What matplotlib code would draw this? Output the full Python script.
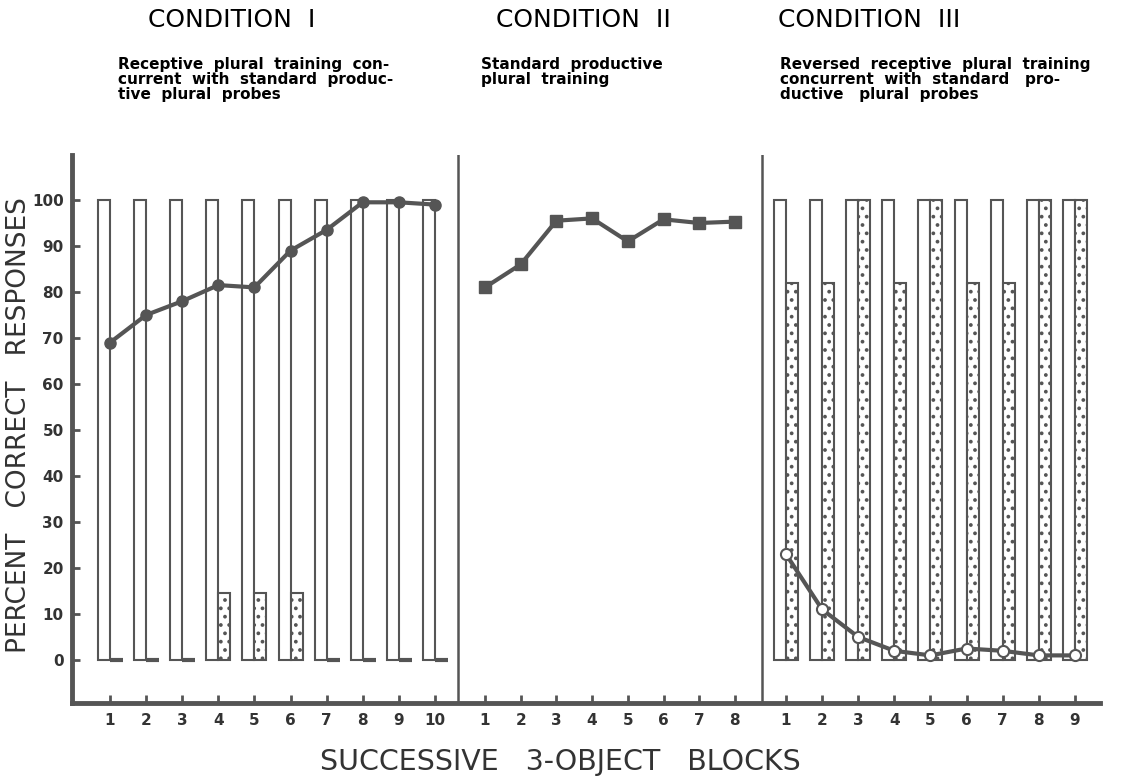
import matplotlib.pyplot as plt

# data
cond1_blocks = list(range(1, 11))
cond1_open = [100] * 10
cond1_dotted = [0, 0, 0, 14.5, 14.5, 14.5, 0, 0, 0, 0]
cond1_line = [69, 75, 78, 81.5, 81, 89, 93.5, 99.5, 99.5, 99]

cond2_blocks = list(range(1, 9))
cond2_line = [81, 86, 95.5, 96, 91, 95.8, 95, 95.3]

cond3_blocks = list(range(1, 10))
cond3_open = [100] * 9
cond3_dotted = [82, 82, 100, 82, 100, 82, 82, 100, 100]
cond3_line = [23, 11, 5, 2, 1, 2.5, 2, 1, 1]

titles = ["CONDITION  I", "CONDITION  II", "CONDITION  III"]
subtitles = [
    "Receptive  plural  training  con-\ncurrent  with  standard  produc-\ntive  plural  probes",
    "Standard  productive\nplural  training",
    "Reversed  receptive  plural  training\nconcurrent  with  standard   pro-\nductive   plural  probes",
]

W, H = 1127, 776
col = "#555555"
txt = "#333333"
step = 36.1
bw = 12

plt.rcParams['hatch.linewidth'] = 1.5
plt.rcParams['hatch.color'] = col

fig = plt.figure(figsize=(W / 100, H / 100), dpi=100)
ax = fig.add_axes([72 / W, 1 - 703 / H, (1100 - 72) / W, (703 - 155) / H])
ax.set_xlim(72, 1100)
ax.set_ylim(-(703 - 660) / 4.6, (660 - 155) / 4.6)

x1 = [110 + step * (b - 1) for b in cond1_blocks]
x2 = [485 + 35.7 * (b - 1) for b in cond2_blocks]
x3 = [786 + step * (b - 1) for b in cond3_blocks]

# condition I
ax.bar([x - bw / 2 for x in x1], cond1_open, width=bw, facecolor="white",
       edgecolor=col, linewidth=1.5, zorder=2)
for x, h in zip(x1, cond1_dotted):
    if h > 0:
        ax.bar(x + bw / 2, h, width=bw, facecolor="white", edgecolor=col,
               hatch="..", linewidth=1.5, zorder=2)
    else:
        ax.plot([x, x + bw + 1], [h, h], color=col, lw=3, zorder=2,
                solid_capstyle="butt")
ax.plot(x1, cond1_line, color=col, lw=3, marker="o", ms=8, zorder=4)

# condition II
ax.plot(x2, cond2_line, color=col, lw=3, marker="s", ms=8, zorder=4)

# condition III
ax.bar([x - bw / 2 for x in x3], cond3_open, width=bw, facecolor="white",
       edgecolor=col, linewidth=1.5, zorder=2)
ax.bar([x + bw / 2 for x in x3], cond3_dotted, width=bw, facecolor="white",
       edgecolor=col, hatch="..", linewidth=1.5, zorder=2)
ax.plot(x3, cond3_line, color=col, lw=3, marker="o", ms=8,
        markerfacecolor="white", markeredgecolor=col, markeredgewidth=1.5, zorder=4)

# dividers
for xd in [458, 762]:
    ax.axvline(xd, color=col, lw=1.8, zorder=1)

for s in ["top", "right"]:
    ax.spines[s].set_visible(False)
for s in ["left", "bottom"]:
    ax.spines[s].set_linewidth(3.5)
    ax.spines[s].set_color(col)

ax.set_yticks(range(0, 101, 10))
ax.set_xticks(x1 + x2 + x3)
ax.set_xticklabels([str(b) for b in cond1_blocks + cond2_blocks + cond3_blocks])
ax.tick_params(axis="both", direction="in", length=6, width=2, color=col,
               labelsize=11, labelcolor=txt)
ax.tick_params(axis="x", pad=7)
ax.tick_params(axis="y", pad=6)
for lab in ax.get_xticklabels() + ax.get_yticklabels():
    lab.set_fontweight("bold")

fig.text(19 / W, 1 - 425 / H, "PERCENT   CORRECT   RESPONSES", rotation=90,
         ha="center", va="center", fontsize=19, color=txt)
fig.text(560 / W, 1 - 762 / H, "SUCCESSIVE   3-OBJECT   BLOCKS",
         ha="center", va="center", fontsize=20.5, color=txt)

for tx, t in zip([232, 583, 869], titles):
    fig.text(tx / W, 1 - 20 / H, t, ha="center", va="center", fontsize=18, color="black")
for sx, s in zip([118, 481, 780], subtitles):
    fig.text(sx / W, 1 - 57 / H, s, ha="left", va="top", fontsize=11,
             fontweight="bold", linespacing=1.0, color="black")

fig.savefig("out.png", dpi=100)
